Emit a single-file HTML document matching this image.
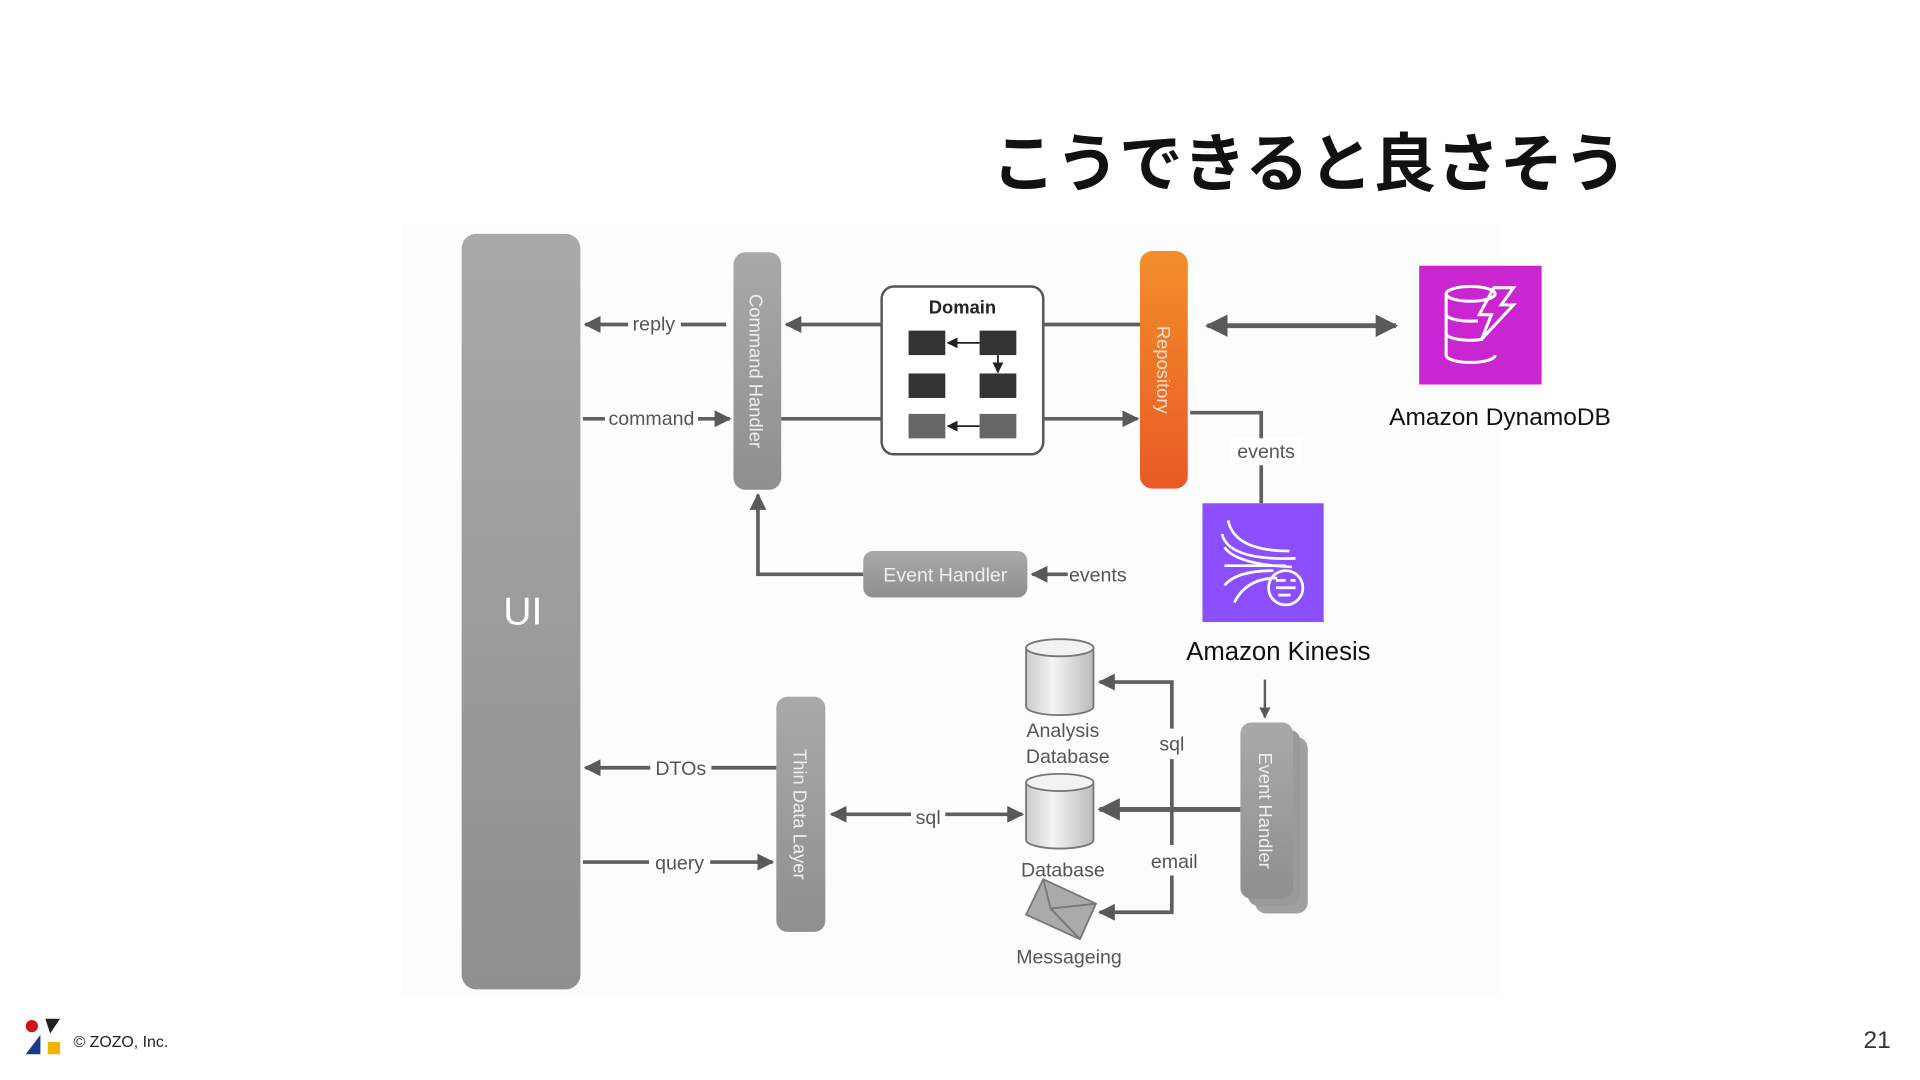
<!DOCTYPE html>
<html><head><meta charset="utf-8"><style>
html,body{margin:0;padding:0;background:#fff;}
svg{display:block;}
text{font-family:"Liberation Sans","Noto Sans CJK JP",sans-serif;}
</style></head><body>
<svg width="1920" height="1080" viewBox="0 0 1568 882" xmlns="http://www.w3.org/2000/svg">
<defs>
<linearGradient id="g1" x1="0" y1="0" x2="0" y2="1"><stop offset="0" stop-color="#a9a9a9"/><stop offset="1" stop-color="#8f8f8f"/></linearGradient>
<linearGradient id="go" x1="0" y1="0" x2="0" y2="1"><stop offset="0" stop-color="#f28e2a"/><stop offset="1" stop-color="#ea5a26"/></linearGradient>
<linearGradient id="gc" x1="0" y1="0" x2="1" y2="0"><stop offset="0" stop-color="#ccc"/><stop offset="0.4" stop-color="#f4f4f4"/><stop offset="1" stop-color="#bbb"/></linearGradient>
<marker id="a" viewBox="0 0 10 10" refX="9" refY="5" markerWidth="4.6" markerHeight="4.6" orient="auto-start-reverse"><path d="M0,0L10,5L0,10z" fill="#595959"/></marker>
<marker id="s" viewBox="0 0 10 10" refX="9" refY="5" markerWidth="6" markerHeight="6" orient="auto-start-reverse"><path d="M0,0L10,5L0,10z" fill="#222"/></marker>
</defs>
<rect x="328" y="183" width="897" height="629" fill="#fcfcfc"/>
<text x="810" y="152" font-size="52" font-weight="bold" fill="#111" font-family="Noto Sans CJK JP, sans-serif">こうできると良さそう</text>

<rect x="377" y="191" width="97" height="617" rx="12" fill="url(#g1)"/>
<text x="427" y="510" font-size="32" fill="#fff" text-anchor="middle">UI</text>

<rect x="599" y="206" width="39" height="194" rx="10" fill="url(#g1)"/>
<text transform="translate(612,303) rotate(90)" font-size="15" fill="#eee" text-anchor="middle">Command Handler</text>

<rect x="720" y="234" width="132" height="137" rx="10" fill="#fff" stroke="#555" stroke-width="2"/>
<text x="786" y="256" font-size="15" font-weight="bold" fill="#222" text-anchor="middle">Domain</text>
<rect x="742" y="270" width="30" height="20" fill="#333"/><rect x="800" y="270" width="30" height="20" fill="#333"/>
<rect x="742" y="305" width="30" height="20" fill="#333"/><rect x="800" y="305" width="30" height="20" fill="#333"/>
<rect x="742" y="338" width="30" height="20" fill="#666"/><rect x="800" y="338" width="30" height="20" fill="#666"/>
<line x1="800" y1="280" x2="774" y2="280" stroke="#222" stroke-width="1.5" marker-end="url(#s)"/>
<line x1="815" y1="290" x2="815" y2="304" stroke="#222" stroke-width="1.5" marker-end="url(#s)"/>
<line x1="800" y1="348" x2="774" y2="348" stroke="#222" stroke-width="1.5" marker-end="url(#s)"/>

<rect x="931" y="205" width="39" height="194" rx="10" fill="url(#go)"/>
<text transform="translate(945,302) rotate(90)" font-size="15" fill="#fbe0cc" text-anchor="middle">Repository</text>

<g stroke="#5f5f5f" stroke-width="3" fill="none">
<line x1="593" y1="265" x2="478" y2="265" marker-end="url(#a)"/>
<line x1="476" y1="342" x2="596" y2="342" marker-end="url(#a)"/>
<line x1="720" y1="265" x2="642" y2="265" marker-end="url(#a)"/>
<line x1="852" y1="265" x2="931" y2="265"/>
<line x1="638" y1="342" x2="720" y2="342"/>
<line x1="852" y1="342" x2="929" y2="342" marker-end="url(#a)"/>
<line x1="986" y1="266" x2="1140" y2="266" stroke-width="4" marker-start="url(#a)" marker-end="url(#a)"/>
<polyline points="972,337 1030,337 1030,358"/>
<line x1="1030" y1="380" x2="1030" y2="411"/>
<line x1="872" y1="469" x2="843" y2="469" marker-end="url(#a)"/>
<polyline points="705,469 619,469 619,404" marker-end="url(#a)"/>
<line x1="1033" y1="555" x2="1033" y2="586" stroke-width="2" marker-end="url(#a)"/>
<line x1="580" y1="627" x2="478" y2="627" marker-end="url(#a)"/>
<line x1="634" y1="627" x2="580" y2="627"/>
<line x1="476" y1="704" x2="631" y2="704" marker-end="url(#a)"/>
<line x1="679" y1="665" x2="835" y2="665" marker-start="url(#a)" marker-end="url(#a)"/>
<line x1="1013" y1="661" x2="898" y2="661" stroke-width="4" marker-end="url(#a)"/>
<polyline points="957,595 957,557 898,557" marker-end="url(#a)"/>
<line x1="957" y1="620" x2="957" y2="690"/>
<polyline points="957,715 957,745 898,745" marker-end="url(#a)"/>
</g>
<g font-size="16" fill="#555">
<rect x="513" y="255" width="43" height="18" fill="#fcfcfc"/><text x="534" y="270" text-anchor="middle">reply</text>
<rect x="494" y="333" width="76" height="18" fill="#fcfcfc"/><text x="532" y="347" text-anchor="middle">command</text>
<rect x="1004" y="358" width="60" height="20" fill="#fff"/><text x="1034" y="374" text-anchor="middle">events</text>
<text x="873" y="475">events</text>
<rect x="531" y="617" width="50" height="20" fill="#fcfcfc"/><text x="556" y="633" text-anchor="middle">DTOs</text>
<rect x="530" y="694" width="50" height="20" fill="#fcfcfc"/><text x="555" y="710" text-anchor="middle">query</text>
<rect x="744" y="655" width="28" height="20" fill="#fcfcfc"/><text x="758" y="673" text-anchor="middle">sql</text>
<text x="957" y="613" text-anchor="middle">sql</text>
<text x="959" y="709" text-anchor="middle">email</text>
<text x="868" y="602" text-anchor="middle">Analysis</text>
<text x="872" y="623" text-anchor="middle">Database</text>
<text x="868" y="716" text-anchor="middle">Database</text>
<text x="873" y="787" text-anchor="middle">Messageing</text>
</g>

<rect x="705" y="450" width="134" height="38" rx="8" fill="url(#g1)"/>
<text x="772" y="475" font-size="16" fill="#eee" text-anchor="middle">Event Handler</text>

<rect x="634" y="569" width="40" height="192" rx="9" fill="url(#g1)"/>
<text transform="translate(648,665) rotate(90)" font-size="15" fill="#eee" text-anchor="middle">Thin Data Layer</text>

<rect x="1025" y="602" width="43" height="144" rx="9" fill="#a0a0a0"/>
<rect x="1019" y="596" width="43" height="144" rx="9" fill="#9a9a9a"/>
<rect x="1013" y="590" width="43" height="144" rx="9" fill="url(#g1)"/>
<text transform="translate(1028,662) rotate(90)" font-size="15" fill="#eee" text-anchor="middle">Event Handler</text>

<g stroke="#777" stroke-width="1.5">
<path d="M838,529 v48 a27.5,7 0 0 0 55,0 v-48" fill="url(#gc)"/>
<ellipse cx="865.5" cy="529" rx="27.5" ry="7" fill="#f2f2f2"/>
<path d="M838,639 v47 a27.5,7 0 0 0 55,0 v-47" fill="url(#gc)"/>
<ellipse cx="865.5" cy="639" rx="27.5" ry="7" fill="#f2f2f2"/>
<path d="M852,718 L895,738 L882,767 L838,747z" fill="#aaa"/>
<path d="M852,718 L858,742 L895,738 M858,742 L882,767" fill="none"/>
</g>

<rect x="1159" y="217" width="100" height="97" fill="#c925d1"/>
<g stroke="#fff" stroke-width="2.5" fill="none">
<ellipse cx="1201" cy="240" rx="20" ry="6"/>
<path d="M1181,240 v50 a20,6 0 0 0 40,0 M1181,257 a20,6 0 0 0 26,5 M1181,273 a20,6 0 0 0 30,4"/>
<path d="M1220,235 l-12,22 h10 l-8,20 l26,-28 h-10 l10,-14z"/>
</g>
<text x="1225" y="347" font-size="20" fill="#111" text-anchor="middle">Amazon DynamoDB</text>

<rect x="982" y="411" width="99" height="97" fill="#8c4fff"/>
<g stroke="#fff" stroke-width="2.2" fill="none">
<path d="M1003,425 q5,25 50,25 M998,436 q5,22 60,20 M1000,447 q10,14 55,16 M1000,462 h50 M1000,478 q10,-12 40,-12 M1008,492 q10,-20 35,-20"/>
<circle cx="1050" cy="480" r="14"/>
<path d="M1042,474 h8 M1054,474 h4 M1042,480 h16 M1044,486 h10"/>
</g>
<text x="1044" y="539" font-size="21" fill="#111" text-anchor="middle">Amazon Kinesis</text>

<circle cx="26" cy="838" r="5" fill="#d0121b"/>
<path d="M37,832 h12 l-8,12z" fill="#222"/>
<path d="M21,861 l12,-16 v16z" fill="#1a3a8c"/>
<rect x="39" y="851" width="10" height="10" fill="#f3b300"/>
<text x="60" y="855" font-size="13" fill="#222">© ZOZO, Inc.</text>
<text x="1533" y="856" font-size="20" fill="#333" text-anchor="middle">21</text>
</svg>
</body></html>
